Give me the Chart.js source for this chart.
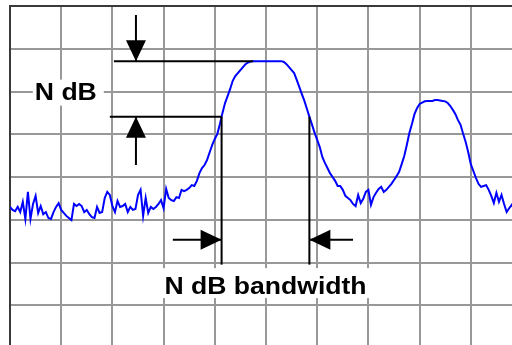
<!DOCTYPE html>
<html>
<head>
<meta charset="utf-8">
<script src="https://cdn.jsdelivr.net/npm/chart.js@4.4.1/dist/chart.umd.min.js"></script>
<style>
  html, body { margin: 0; padding: 0; background: #fff; overflow: hidden; }
  #wrap { width: 532px; height: 358px; }
</style>
</head>
<body>
<div id="wrap"><canvas id="spectrum" width="532" height="358"></canvas></div>
<script>
// spectrum trace in dB, one sample every half division unit
const STEP = 0.5;
const trace = [
  -47.0, -47.7, -48.0, -47.0, -48.2, -45.8, -49.8, -43.5, -49.8, -46.3,
  -44.4, -48.4, -46.8, -48.7, -48.2, -49.6, -49.8, -48.2, -47.0, -46.1,
  -47.7, -48.4, -49.1, -49.6, -50.1, -46.3, -46.8, -46.3, -46.8, -48.2,
  -47.7, -48.7, -49.4, -49.6, -47.0, -48.4, -48.2, -44.9, -43.5, -44.2,
  -46.8, -48.2, -45.6, -47.0, -46.8, -46.3, -48.2, -47.0, -47.7, -47.5,
  -44.2, -43.0, -49.1, -44.9, -48.4, -47.0, -47.5, -47.0, -46.3, -45.4,
  -47.3, -42.8, -44.9, -45.4, -45.6, -44.7, -44.9, -43.0, -43.3, -43.0,
  -42.6, -41.9, -42.1, -40.9, -39.1, -37.9, -37.2, -36.0, -34.2, -32.5,
  -31.1, -29.9, -27.6, -25.0, -22.7, -21.1, -19.4, -17.5, -16.4, -15.7,
  -15.0, -14.3, -13.6, -13.2, -13.0, -12.9, -12.9, -12.9, -12.9, -12.9,
  -12.9, -12.9, -12.9, -12.9, -12.9, -12.9, -12.9, -13.1, -13.6, -14.3,
  -15.0, -15.7, -17.3, -18.9, -20.6, -22.2, -24.1, -26.0, -27.8, -29.7,
  -31.3, -33.0, -35.3, -36.7, -37.9, -39.1, -40.0, -40.9, -42.1, -42.1,
  -43.0, -44.4, -44.9, -45.4, -46.3, -46.8, -44.2, -46.1, -45.1, -43.5,
  -43.0, -46.5, -44.7, -43.7, -42.8, -42.3, -43.5, -43.0, -42.3, -41.6,
  -40.7, -39.8, -38.8, -37.0, -35.1, -32.5, -29.7, -27.6, -25.3, -23.9,
  -22.9, -22.6, -22.3, -22.2, -22.2, -22.2, -22.0, -22.0, -22.1, -22.2,
  -22.3, -22.7, -23.4, -24.3, -25.3, -26.7, -27.8, -29.9, -31.8, -34.2,
  -37.0, -38.6, -40.2, -41.6, -42.3, -42.1, -41.9, -43.0, -44.4, -46.1,
  -43.7, -45.8, -44.2, -46.3, -48.2, -47.3, -46.5, -47.5
];

const N_DB = 13;
const labels = ['N dB', 'N dB bandwidth'];

// bold text in the drawing is a bit wider than the stock font
const STRETCH = 1.107;
const FONT = 'bold 24px "Liberation Sans", Arial, sans-serif';

const points = trace.map((v, i) => ({ x: i * STEP, y: v }));

// where the trace crosses a level on either side of the peak
function crossings(level) {
  let peakIdx = trace.indexOf(Math.max(...trace));
  let left = null, right = null;
  for (let i = peakIdx; i > 0; i--) {
    if (trace[i - 1] < level) {
      left = (i - 1 + (level - trace[i - 1]) / (trace[i] - trace[i - 1])) * STEP;
      break;
    }
  }
  for (let i = peakIdx; i < trace.length - 1; i++) {
    if (trace[i + 1] < level) {
      right = (i + (trace[i] - level) / (trace[i] - trace[i + 1])) * STEP;
      break;
    }
  }
  return [left, right];
}

function seg(ctx, x1, y1, x2, y2) {
  ctx.beginPath();
  ctx.moveTo(x1, y1);
  ctx.lineTo(x2, y2);
  ctx.stroke();
}

// filled arrow head, (dx, dy) is the pointing direction
function head(ctx, tx, ty, dx, dy) {
  const len = 21, half = 10;
  const bx = tx - dx * len, by = ty - dy * len;
  ctx.beginPath();
  ctx.moveTo(tx, ty);
  ctx.lineTo(bx - dy * half, by + dx * half);
  ctx.lineTo(bx + dy * half, by - dx * half);
  ctx.closePath();
  ctx.fill();
}

function label(ctx, text, cx, base, padL, padR, up, down) {
  ctx.save();
  ctx.font = FONT;
  const w = ctx.measureText(text).width * STRETCH;
  ctx.fillStyle = '#fff';
  ctx.fillRect(cx - w / 2 - padL, base - up, w + padL + padR, up + down);
  ctx.translate(cx, base);
  ctx.scale(STRETCH, 1);
  ctx.textAlign = 'center';
  ctx.textBaseline = 'alphabetic';
  ctx.fillStyle = '#000';
  ctx.fillText(text, 0, 0);
  ctx.restore();
}

const ndbMarkers = {
  id: 'ndbMarkers',
  afterDatasetsDraw(chart) {
    const { ctx, scales: { x, y } } = chart;
    const peak = Math.max(...trace);
    const lower = peak - N_DB;
    const [f1, f2] = crossings(lower);
    const peakStart = trace.indexOf(peak) * STEP;

    const yPeak = y.getPixelForValue(peak);
    const yLow = y.getPixelForValue(lower);
    const xArrow = x.getPixelForValue(24.6);
    const xf1 = x.getPixelForValue(f1);
    const xf2 = x.getPixelForValue(f2);
    const yBw = y.getPixelForValue(-54.7);

    ctx.save();
    ctx.strokeStyle = '#000';
    ctx.fillStyle = '#000';
    ctx.lineWidth = 2;

    label(ctx, labels[0], x.getPixelForValue(10.9), y.getPixelForValue(-21.9), 2, 7, 20, 6);
    label(ctx, labels[1], (xf1 + xf2) / 2, y.getPixelForValue(-67.4), 2, 4, 26, 4);

    // reference levels
    seg(ctx, x.getPixelForValue(20.3), yPeak, x.getPixelForValue(peakStart), yPeak);
    seg(ctx, x.getPixelForValue(19.5), yLow, xf1, yLow);

    // N dB arrows
    seg(ctx, xArrow, y.getPixelForValue(-2.1), xArrow, yPeak);
    head(ctx, xArrow, yPeak, 0, 1);
    seg(ctx, xArrow, yLow, xArrow, y.getPixelForValue(-37.2));
    head(ctx, xArrow, yLow, 0, -1);

    // bandwidth markers
    const yDrop = y.getPixelForValue(-60.5);
    seg(ctx, xf1, yLow, xf1, yDrop);
    seg(ctx, xf2, yLow, xf2, yDrop);
    seg(ctx, x.getPixelForValue(31.8), yBw, xf1, yBw);
    head(ctx, xf1, yBw, 1, 0);
    seg(ctx, xf2, yBw, x.getPixelForValue(67), yBw);
    head(ctx, xf2, yBw, -1, 0);
    ctx.restore();
  }
};

const gridColor = '#989898';
const edgeColor = '#3a3a3a';

new Chart(document.getElementById('spectrum'), {
  type: 'line',
  data: {
    datasets: [{
      data: points,
      borderColor: '#0000ff',
      borderWidth: 2,
      pointRadius: 0,
      tension: 0,
      fill: false
    }]
  },
  options: {
    responsive: false,
    animation: false,
    events: [],
    layout: { padding: { left: 10, top: 6, right: 10, bottom: 10 } },
    plugins: { legend: { display: false }, tooltip: { enabled: false } },
    scales: {
      x: {
        type: 'linear',
        min: 0,
        max: 100,
        ticks: { display: false, stepSize: 10 },
        grid: { color: gridColor, lineWidth: 2, drawTicks: false },
        border: { display: false }
      },
      y: {
        min: -80,
        max: 0,
        ticks: { display: false, stepSize: 10 },
        grid: {
          color: c => c.tick && c.tick.value === 0 ? edgeColor : gridColor,
          lineWidth: 2,
          drawTicks: false
        },
        border: { color: edgeColor, width: 2 }
      }
    }
  },
  plugins: [ndbMarkers]
});
</script>
</body>
</html>
